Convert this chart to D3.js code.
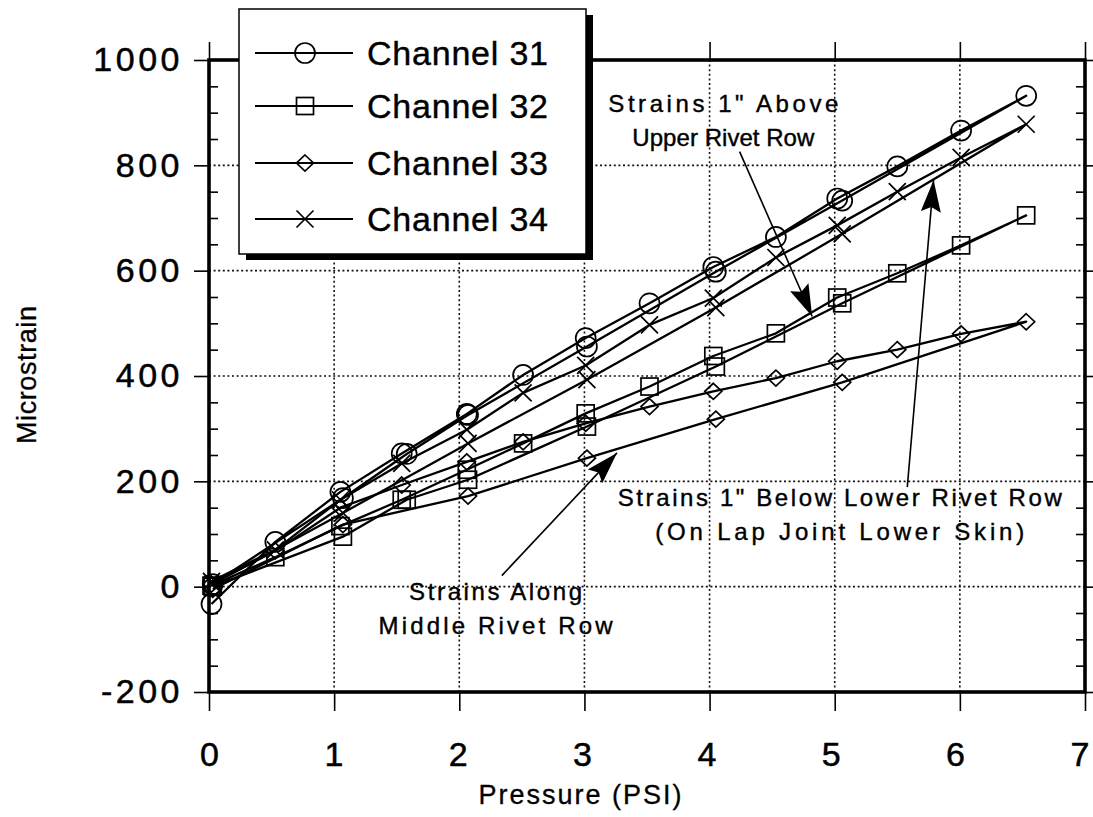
<!DOCTYPE html>
<html><head><meta charset="utf-8">
<script src="https://cdn.jsdelivr.net/npm/d3@7"></script>
<style>
html,body{margin:0;padding:0;background:#fff;}
svg{display:block;font-family:"Liberation Sans",Arial,Helvetica,sans-serif;}
</style></head><body>
<svg id="chart" width="1093" height="817"></svg>
<script>
// ---------- data ----------
const channelNames = ["Channel  31", "Channel  32", "Channel  33", "Channel  34"];
const channelSymbols = ["circle", "square", "diamond", "cross"];

// loading pressures (PSI) and unloading pressures (PSI)
const loadPressure   = [0.02, 0.53, 1.05, 1.54, 2.06, 2.51, 3.01, 3.52, 4.03, 4.53, 5.02, 5.50, 6.01, 6.53];
const unloadPressure = [5.06, 4.05, 3.02, 2.07, 1.58, 1.07, 0.03];

// microstrain, loading then unloading (null = no reading)
const ch31Load   = [-33, 85, 180, 253, 328, 402, 472, 538, 607, 664, 737, 798, 866, 932];
const ch31Unload = [733, 598, 456, 326, 252, 168, 5];
const ch32Load   = [2, 56, 115, 165, 222, 272, 329, 380, 438, 481, 549, 595, 648, 705];
const ch32Unload = [538, 418, 304, 203, 165, 95, 0];
const ch33Load   = [5, 68, 150, 193, 237, 275, 310, 342, 371, 396, 428, 450, 480, 503];
const ch33Unload = [388, 318, 244, 172, null, 118, -5];
const ch34Load   = [10, 70, 165, 234, 298, 368, 420, 497, 548, 625, 686, 750, 815, 878];
const ch34Unload = [670, 530, 393, 272, null, 140, 5];

const xTickValues = [0, 1, 2, 3, 4, 5, 6, 7];
const yTickValues = [-200, 0, 200, 400, 600, 800, 1000];
const yMinorTickValues = [-150, -100, -50, 50, 100, 150, 250, 300, 350, 450, 500, 550, 650, 700, 750, 850, 900, 950];

const noteAbove  = ['Strains  1"  Above', 'Upper Rivet Row'];
const noteBelow  = ['Strains  1"  Below  Lower  Rivet  Row', '(On  Lap  Joint  Lower  Skin)'];
const noteMiddle = ['Strains  Along', 'Middle  Rivet  Row'];

// ---------- build ----------
const loads = [ch31Load, ch32Load, ch33Load, ch34Load];
const unloads = [ch31Unload, ch32Unload, ch33Unload, ch34Unload];
const series = channelNames.map((name, i) => {
  const pts = loadPressure.map((p, j) => ({x: p, y: loads[i][j]}))
    .concat(unloadPressure.map((p, j) => ({x: p, y: unloads[i][j]})))
    .filter(d => d.y !== null);
  return {name, symbol: channelSymbols[i], pts};
});

const svg = d3.select("#chart");
const x = d3.scaleLinear().domain([0, 7]).range([209, 1085]);
const y = d3.scaleLinear().domain([-200, 1000]).range([692, 60]);
const X0 = x.range()[0], X1 = x.range()[1], Y0 = y.range()[0], Y1 = y.range()[1];

// grid
const grid = svg.append("g").attr("stroke", "#111").attr("stroke-width", 1.6).attr("stroke-dasharray", "2,2.6");
grid.selectAll("line.gx").data(xTickValues.slice(1, -1)).join("line")
  .attr("x1", d => x(d)).attr("x2", d => x(d)).attr("y1", Y1).attr("y2", Y0);
grid.selectAll("line.gy").data(yTickValues.slice(1, -1)).join("line")
  .attr("x1", X0).attr("x2", X1).attr("y1", d => y(d)).attr("y2", d => y(d));

// axes
function styleAxis(g, width) {
  g.select(".domain").remove();
  g.selectAll(".tick line").attr("stroke", "#000").attr("stroke-width", width);
}
const fontTick = "34px";
svg.append("g").attr("transform", `translate(${X0},0)`)
  .call(d3.axisLeft(y).tickValues(yTickValues).tickSize(15).tickPadding(11).tickFormat(d => String(d)))
  .call(g => { styleAxis(g, 1.6); g.selectAll("text").attr("font-size", fontTick).attr("letter-spacing", "3.5px").attr("fill", "#000").attr("stroke", "#000").attr("stroke-width", 0.5).attr("font-family", "Liberation Sans, Arial, sans-serif"); });
svg.append("g").attr("transform", `translate(${X0},0)`)
  .call(d3.axisLeft(y).tickValues(yMinorTickValues).tickSize(-9).tickFormat(""))
  .call(g => styleAxis(g, 1.6));
svg.append("g").attr("transform", `translate(${X1},0)`)
  .call(d3.axisRight(y).tickValues(yTickValues).tickSize(8).tickFormat(""))
  .call(g => styleAxis(g, 1.6));
svg.append("g").attr("transform", `translate(${X1},0)`)
  .call(d3.axisRight(y).tickValues(yMinorTickValues).tickSize(-9).tickFormat(""))
  .call(g => styleAxis(g, 1.6));
svg.append("g").attr("transform", `translate(0,${Y0})`)
  .call(d3.axisBottom(x).tickValues(xTickValues).tickSize(19).tickPadding(31).tickFormat(d => String(d)))
  .call(g => { styleAxis(g, 1.6); g.selectAll("text").attr("font-size", fontTick).attr("fill", "#000").attr("stroke", "#000").attr("stroke-width", 0.5).attr("dx", d => -d * 0.8).attr("font-family", "Liberation Sans, Arial, sans-serif"); });
svg.append("g").attr("transform", `translate(0,${Y1})`)
  .call(d3.axisTop(x).tickValues(xTickValues).tickSize(18).tickFormat(""))
  .call(g => styleAxis(g, 1.6));

// frame
svg.append("rect").attr("x", X0).attr("y", Y1).attr("width", X1 - X0).attr("height", Y0 - Y1)
  .attr("fill", "none").attr("stroke", "#000").attr("stroke-width", 3.6);

// symbols
function drawSymbol(g, type) {
  const sw = 1.7;
  if (type === "circle") g.append("circle").attr("r", 10).attr("fill", "none").attr("stroke", "#000").attr("stroke-width", sw);
  else if (type === "square") g.append("rect").attr("x", -8.5).attr("y", -8.5).attr("width", 17).attr("height", 17).attr("fill", "none").attr("stroke", "#000").attr("stroke-width", sw);
  else if (type === "diamond") g.append("path").attr("d", "M0,-8 L8.5,0 L0,8 L-8.5,0 Z").attr("fill", "none").attr("stroke", "#000").attr("stroke-width", sw);
  else g.append("path").attr("d", "M-8.5,-8.5 L8.5,8.5 M-8.5,8.5 L8.5,-8.5").attr("fill", "none").attr("stroke", "#000").attr("stroke-width", sw);
}

// lines
const line = d3.line().x(d => x(d.x)).y(d => y(d.y));
const sg = svg.append("g");
series.forEach(s => {
  sg.append("path").attr("d", line(s.pts)).attr("fill", "none").attr("stroke", "#000").attr("stroke-width", 2.3).attr("stroke-linejoin", "round");
});
series.forEach(s => {
  s.pts.forEach(p => {
    const g = sg.append("g").attr("transform", `translate(${x(p.x)},${y(p.y)})`);
    drawSymbol(g, s.symbol);
  });
});

// annotations
const defs = svg.append("defs");
defs.append("marker").attr("id", "ah").attr("viewBox", "0 0 32 20").attr("refX", 32).attr("refY", 10)
  .attr("markerWidth", 32).attr("markerHeight", 20).attr("markerUnits", "userSpaceOnUse").attr("orient", "auto")
  .append("path").attr("d", "M0,0 L32,10 L0,20 L5,10 Z").attr("fill", "#000");

function note(lines, cx, cy, widths, arrowFrom, arrowTo) {
  lines.forEach((t, i) => {
    svg.append("text").attr("x", x(cx)).attr("y", y(cy) + i * 34).attr("text-anchor", "middle")
      .attr("dominant-baseline", "central").attr("font-size", "24px").attr("fill", "#000")
      .attr("stroke", "#000").attr("stroke-width", 0.4)
      .attr("textLength", widths[i]).attr("lengthAdjust", "spacing").text(t);
  });
  svg.append("line").attr("x1", x(arrowFrom[0])).attr("y1", y(arrowFrom[1]))
    .attr("x2", x(arrowTo[0])).attr("y2", y(arrowTo[1]))
    .attr("stroke", "#000").attr("stroke-width", 1.6).attr("marker-end", "url(#ah)");
}
note(noteAbove, 4.11, 918, [230, 182], [4.24, 826], [4.82, 513]);
note(noteBelow, 5.04, 170, [444, 369], [5.58, 189], [5.79, 772]);
note(noteMiddle, 2.29, -10, [173, 234], [2.34, 21], [3.26, 254]);

// legend
const lg = svg.append("g");
lg.append("rect").attr("x", 246).attr("y", 15).attr("width", 347).attr("height", 245).attr("fill", "#000");
lg.append("rect").attr("x", 239).attr("y", 9).attr("width", 347).attr("height", 245).attr("fill", "#fff").attr("stroke", "#000").attr("stroke-width", 1.5);
const legendRowY = [53, 106, 163, 219];
series.forEach((s, i) => {
  const ly = legendRowY[i];
  lg.append("line").attr("x1", 255).attr("x2", 353).attr("y1", ly).attr("y2", ly).attr("stroke", "#000").attr("stroke-width", 2);
  drawSymbol(lg.append("g").attr("transform", `translate(305,${ly})`), s.symbol);
  lg.append("text").attr("x", 367).attr("y", ly).attr("dominant-baseline", "central")
    .attr("font-size", "34px").attr("fill", "#000").attr("stroke", "#000").attr("stroke-width", 0.4)
    .attr("textLength", 181).attr("lengthAdjust", "spacing").text(s.name);
});

// axis titles
svg.append("text").attr("transform", "translate(27,375) rotate(-90)").attr("text-anchor", "middle")
  .attr("dominant-baseline", "central").attr("font-size", "27px").attr("stroke", "#000").attr("stroke-width", 0.3)
  .attr("textLength", 138).attr("lengthAdjust", "spacing").text("Microstrain");
svg.append("text").attr("x", 580).attr("y", 795).attr("text-anchor", "middle")
  .attr("dominant-baseline", "central").attr("font-size", "27px").attr("stroke", "#000").attr("stroke-width", 0.3)
  .attr("textLength", 203).attr("lengthAdjust", "spacing").text("Pressure  (PSI)");
</script>
</body></html>
